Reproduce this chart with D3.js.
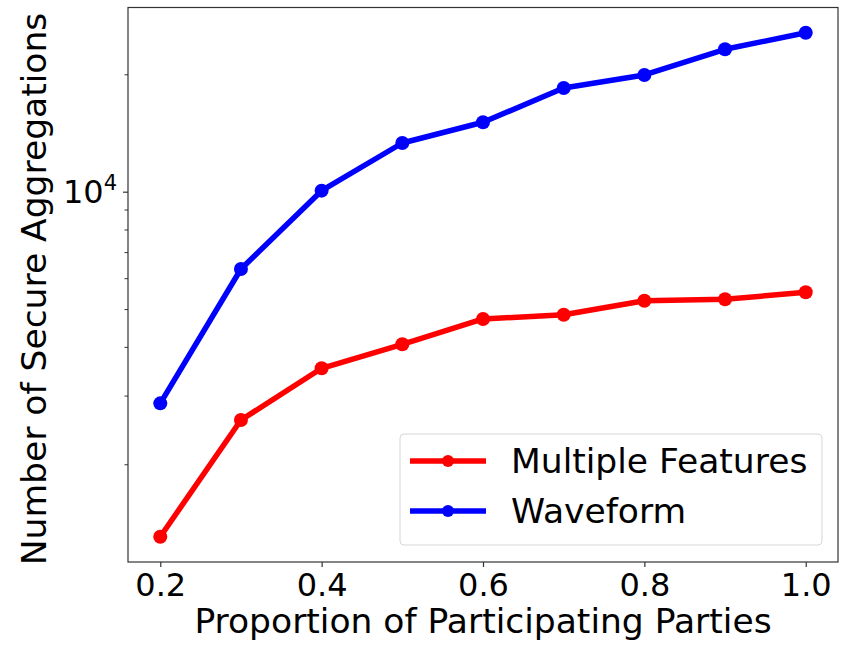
<!DOCTYPE html>
<html><head><meta charset="utf-8">
<script src="https://cdn.jsdelivr.net/npm/d3@7"></script>
<style>body{margin:0;background:#fff}svg{display:block}text{font-family:"DejaVu Sans",sans-serif}</style>
</head><body><svg id="c" width="844" height="645"></svg>
<script>
const proportions = [0.2, 0.3, 0.4, 0.5, 0.6, 0.7, 0.8, 0.9, 1.0];
const multipleFeatures = [1304, 2597, 3525, 4062, 4716, 4837, 5254, 5297, 5521];
const waveform = [2866, 6334, 10060, 13330, 15065, 18450, 19920, 23180, 25570];
const seriesNames = ["Multiple Features", "Waveform"];
const seriesColors = ["#ff0000", "#0000ff"];
const xTicks = [0.2, 0.4, 0.6, 0.8, 1.0];
const yMinorTicks = [2000, 3000, 4000, 5000, 6000, 7000, 8000, 9000, 20000];

const svg = d3.select("#c");
const L = 128, R = 838, T = 7.5, B = 562;
const x = d3.scaleLinear().domain([0.16, 1.04]).range([L, R]);
const y = d3.scaleLog().domain([1123, 29670]).range([B, T]);
const labelFs = 34.5, tickFs = 32;

// axes
const xAxis = d3.axisBottom(x).tickValues(xTicks).tickFormat(d3.format(".1f")).tickSize(5);
const gx = svg.append("g").attr("transform", `translate(0,${B})`).call(xAxis);
gx.select(".domain").remove();
gx.selectAll("line").attr("stroke", "#333").attr("stroke-width", 1.2);
gx.selectAll("text").attr("font-size", tickFs).attr("fill", "#000").attr("dy", null).attr("y", 34);

const gyMinor = svg.append("g").attr("transform", `translate(${L},0)`)
  .call(d3.axisLeft(y).tickValues(yMinorTicks).tickFormat("").tickSize(3.5));
gyMinor.select(".domain").remove();
gyMinor.selectAll("line").attr("stroke", "#333").attr("stroke-width", 1);

const gy = svg.append("g").attr("transform", `translate(${L},0)`)
  .call(d3.axisLeft(y).tickValues([10000]).tickFormat("").tickSize(5));
gy.select(".domain").remove();
gy.selectAll("line").attr("stroke", "#333").attr("stroke-width", 1.2);
gy.selectAll(".tick").append("text")
  .attr("x", -11).attr("y", 11.3).attr("text-anchor", "end").attr("fill", "#000")
  .attr("font-size", tickFs)
  .call(t => { t.append("tspan").text("10"); t.append("tspan").attr("font-size", 21).attr("dy", -13).text("4"); });

// frame
svg.append("rect").attr("x", L).attr("y", T).attr("width", R - L).attr("height", B - T)
  .attr("fill", "none").attr("stroke", "#333").attr("stroke-width", 1.2);

// lines
const data = [multipleFeatures, waveform];
const line = d3.line().x((d, i) => x(proportions[i])).y(d => y(d));
data.forEach((vals, k) => {
  svg.append("path").datum(vals).attr("d", line).attr("fill", "none")
    .attr("stroke", seriesColors[k]).attr("stroke-width", 5.5).attr("stroke-linejoin", "round").attr("stroke-linecap", "butt");
  svg.selectAll(null).data(vals).enter().append("circle")
    .attr("cx", (d, i) => x(proportions[i])).attr("cy", d => y(d)).attr("r", 7).attr("fill", seriesColors[k]);
});

// axis labels
svg.append("text").attr("x", 483).attr("y", 633).attr("text-anchor", "middle")
  .attr("font-size", labelFs).attr("fill", "#000").text("Proportion of Participating Parties");
svg.append("text").attr("transform", `translate(46,289) rotate(-90)`).attr("text-anchor", "middle")
  .attr("font-size", labelFs).attr("fill", "#000").text("Number of Secure Aggregations");

// legend
const lg = svg.append("g");
lg.append("rect").attr("x", 400).attr("y", 434).attr("width", 422).attr("height", 111).attr("rx", 4)
  .attr("fill", "#fff").attr("fill-opacity", 0.8).attr("stroke", "#d6d6d6").attr("stroke-width", 1);
seriesNames.forEach((n, k) => {
  const yy = 461 + k * 50;
  lg.append("line").attr("x1", 410).attr("x2", 486).attr("y1", yy).attr("y2", yy)
    .attr("stroke", seriesColors[k]).attr("stroke-width", 5.5);
  lg.append("circle").attr("cx", 448).attr("cy", yy).attr("r", 6).attr("fill", seriesColors[k]);
  lg.append("text").attr("x", 511).attr("y", yy + 11.5).attr("font-size", labelFs).attr("fill", "#000").text(n);
});
</script></body></html>
